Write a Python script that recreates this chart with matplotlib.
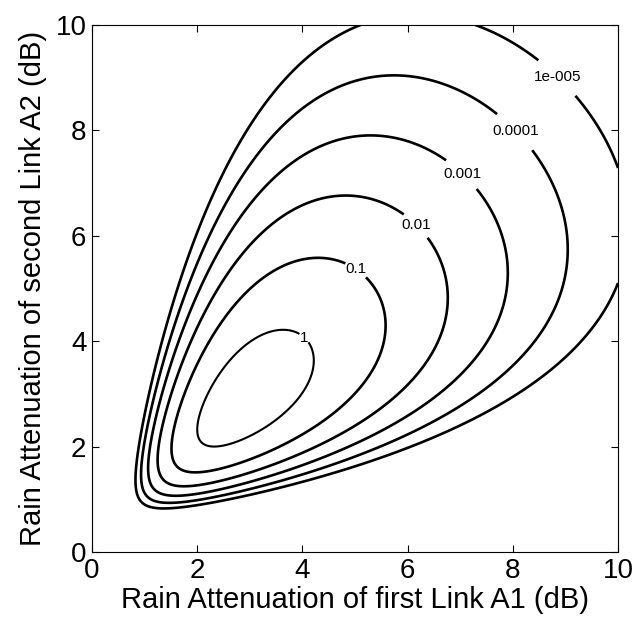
import numpy as np
import matplotlib
matplotlib.use('Agg')
import matplotlib.pyplot as plt

# contour levels and their labels (as printed in the figure)
levels = [1e-5, 1e-4, 1e-3, 1e-2, 1e-1, 1]
level_text = ['1e-005', '0.0001', '0.001', '0.01', '0.1', '1']
label_x = [8.95, 8.12, 7.06, 6.17, 5.03, 4.05]
label_y = [9.11, 8.05, 7.20, 6.20, 5.37, 4.08]

# bivariate lognormal rain attenuation parameters
median_db = 3.21
sigma = 0.25
rho = 0.6
pdf_scale = 8.9

plt.rcParams['font.family'] = ['Liberation Sans', 'DejaVu Sans']

# joint pdf on a grid
a = np.linspace(0.02, 10, 700)
A1, A2 = np.meshgrid(a, a)
u1 = (np.log(A1) - np.log(median_db)) / sigma
u2 = (np.log(A2) - np.log(median_db)) / sigma
q = (u1**2 - 2 * rho * u1 * u2 + u2**2) / (1 - rho**2)
pdf = pdf_scale * np.exp(-q / 2) / (2 * np.pi * sigma**2 * np.sqrt(1 - rho**2) * A1 * A2)

fig = plt.figure(figsize=(6.37, 6.22), dpi=100)
ax = fig.add_axes([92 / 637, 1 - 552 / 622, 526 / 637, 527 / 622])

widths = [1.9, 1.9, 1.9, 1.9, 1.9, 1.5]
cs = ax.contour(A1, A2, pdf, levels=levels, colors='black', linewidths=widths)
fmt = dict(zip(levels, level_text))
labels = ax.clabel(cs, levels, inline=True, fmt=fmt, fontsize=11,
                   manual=list(zip(label_x, label_y)), inline_spacing=2)
# MATLAB style: horizontal labels
for t in labels:
    t.set_rotation(0)

ax.set_xlim(0, 10)
ax.set_ylim(0, 10)
ax.set_xticks(range(0, 11, 2))
ax.set_yticks(range(0, 11, 2))
ax.tick_params(direction='in', top=True, right=True, length=5, width=0.8,
               labelsize=20, pad=4)
for sp in ax.spines.values():
    sp.set_linewidth(0.8)

ax.set_xlabel('Rain Attenuation of first Link A1 (dB)', fontsize=21, labelpad=2)
ax.set_ylabel('Rain Attenuation of second Link A2 (dB)', fontsize=21, labelpad=6)

fig.savefig('out.png', dpi=100)
